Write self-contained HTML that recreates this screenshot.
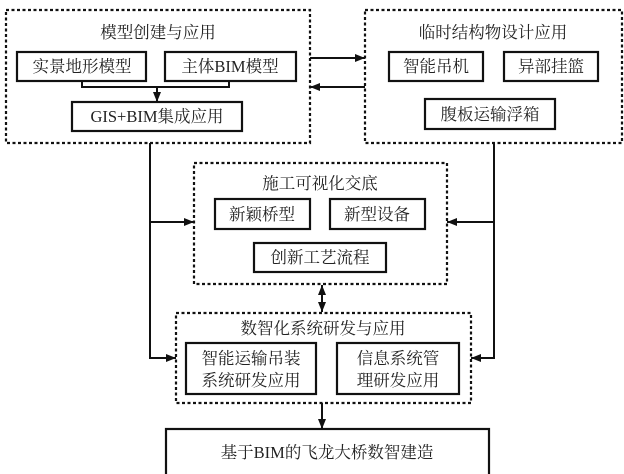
<!DOCTYPE html>
<html><head><meta charset="utf-8"><style>
html,body{margin:0;padding:0;background:#fff;}
svg{display:block;}
text{font-family:"Liberation Serif","Noto Serif CJK SC",serif;font-size:16.5px;fill:#222;text-anchor:middle;}
</style></head><body>
<svg width="624" height="474" viewBox="0 0 624 474" xmlns="http://www.w3.org/2000/svg">
<defs>
<marker id="a" markerWidth="10" markerHeight="8" refX="10" refY="4" orient="auto" markerUnits="userSpaceOnUse">
<path d="M0,0 L10,4 L0,8 Z" fill="#111"/></marker>
<marker id="b" markerWidth="10" markerHeight="8" refX="0" refY="4" orient="auto" markerUnits="userSpaceOnUse">
<path d="M10,0 L0,4 L10,8 Z" fill="#111"/></marker>
</defs>
<g fill="none" stroke="#111" stroke-width="2.2" stroke-dasharray="3,2.5">
<rect x="6" y="10" width="304" height="133"/>
<rect x="365" y="10" width="257" height="133"/>
<rect x="194" y="163" width="253" height="121"/>
<rect x="176" y="313" width="295" height="90"/>
</g>
<g fill="none" stroke="#111" stroke-width="2.2">
<rect x="17" y="52" width="129" height="29"/>
<rect x="165" y="52" width="131" height="29"/>
<rect x="72" y="102" width="170" height="29"/>
<rect x="389" y="52" width="94" height="29"/>
<rect x="504" y="52" width="94" height="29"/>
<rect x="425" y="99" width="130" height="30"/>
<rect x="215" y="199" width="95" height="30"/>
<rect x="330" y="199" width="95" height="30"/>
<rect x="254" y="243" width="132" height="29"/>
<rect x="186" y="343" width="130" height="51"/>
<rect x="337" y="343" width="122" height="51"/>
<rect x="166" y="429" width="323" height="48"/>
</g>
<g fill="none" stroke="#111" stroke-width="2">
<path d="M82,81 V87 H229 V81"/>
<line x1="157" y1="87" x2="157" y2="102" marker-end="url(#a)"/>
<line x1="310" y1="58" x2="365" y2="58" marker-end="url(#a)"/>
<line x1="365" y1="87" x2="310" y2="87" marker-end="url(#a)"/>
<path d="M150,143 V358 H176" marker-end="url(#a)"/>
<line x1="150" y1="222" x2="194" y2="222" marker-end="url(#a)"/>
<path d="M494,143 V358 H471" marker-end="url(#a)"/>
<line x1="494" y1="222" x2="447" y2="222" marker-end="url(#a)"/>
<line x1="322" y1="285" x2="322" y2="312" marker-start="url(#b)" marker-end="url(#a)"/>
<line x1="322" y1="403" x2="322" y2="429" marker-end="url(#a)"/>
</g>
<text x="158" y="38">模型创建与应用</text>
<text x="82" y="72">实景地形模型</text>
<text x="230" y="72">主体BIM模型</text>
<text x="157" y="122">GIS+BIM集成应用</text>
<text x="493" y="38">临时结构物设计应用</text>
<text x="436" y="72">智能吊机</text>
<text x="551" y="72">异部挂篮</text>
<text x="490" y="120">腹板运输浮箱</text>
<text x="320" y="189">施工可视化交底</text>
<text x="262" y="220">新颖桥型</text>
<text x="377" y="220">新型设备</text>
<text x="320" y="263">创新工艺流程</text>
<text x="323" y="334">数智化系统研发与应用</text>
<text x="251" y="364">智能运输吊装</text>
<text x="251" y="386">系统研发应用</text>
<text x="398" y="364">信息系统管</text>
<text x="398" y="386">理研发应用</text>
<text x="327" y="458">基于BIM的飞龙大桥数智建造</text>
</svg>
</body></html>
